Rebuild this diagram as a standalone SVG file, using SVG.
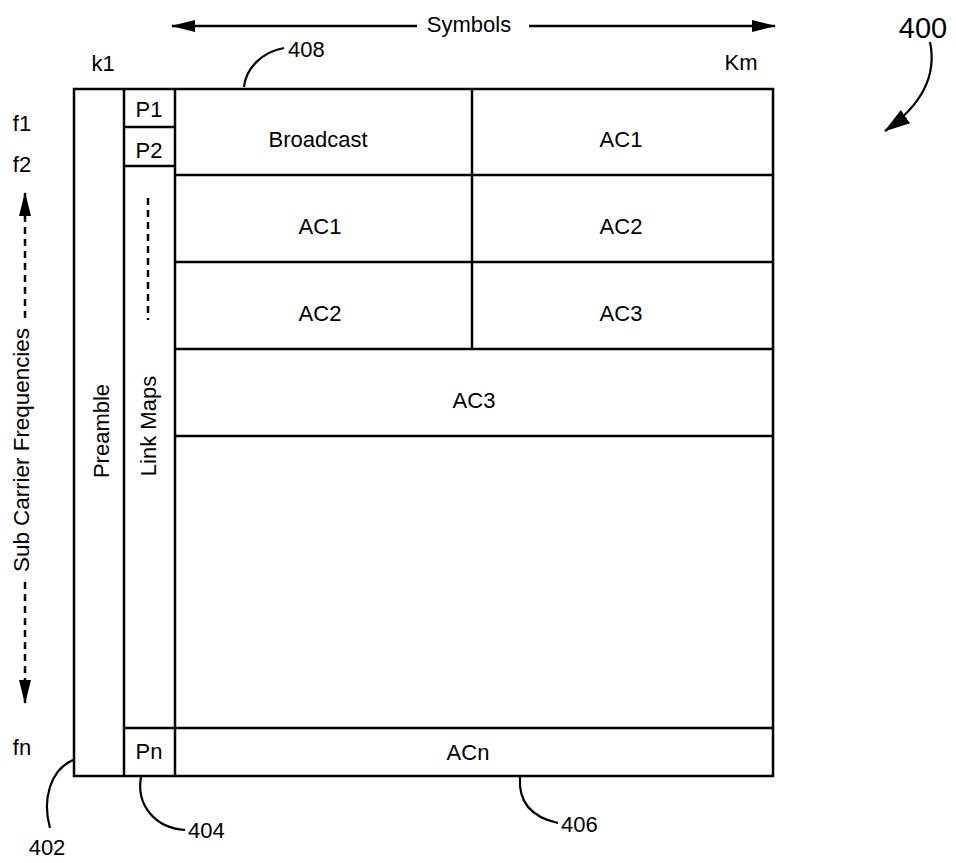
<svg xmlns="http://www.w3.org/2000/svg" width="956" height="863" viewBox="0 0 956 863">
<style>
text{font-family:"Liberation Sans",Arial,sans-serif;font-size:22px;fill:#000}
.m{text-anchor:middle}
.ln{stroke:#000;stroke-width:2.5;fill:none}
.dash{stroke:#000;stroke-width:2.5;fill:none;stroke-dasharray:7 5}
.lead{stroke:#000;stroke-width:2.2;fill:none}
</style>
<defs>
<marker id="ah" viewBox="0 0 24 12" refX="23" refY="6" markerWidth="24" markerHeight="12" markerUnits="userSpaceOnUse" orient="auto">
<path d="M0,0 L24,6 L0,12 Z" fill="#000"/>
</marker>
<marker id="ah2" viewBox="0 0 26 16" refX="25" refY="8" markerWidth="26" markerHeight="16" markerUnits="userSpaceOnUse" orient="auto">
<path d="M0,0 L26,8 L0,16 Z" fill="#000"/>
</marker>
</defs>
<rect width="956" height="863" fill="#fff"/>

<g id="frame">
<rect x="74" y="89" width="699" height="687" class="ln"/>
</g>
<g id="preamble">
<line x1="124" y1="89" x2="124" y2="776" class="ln"/>
<text transform="translate(109,431) rotate(-90)" class="m">Preamble</text>
</g>
<g id="linkmaps">
<line x1="175" y1="89" x2="175" y2="776" class="ln"/>
<line x1="124" y1="127" x2="175" y2="127" class="ln"/>
<line x1="124" y1="166" x2="175" y2="166" class="ln"/>
<line x1="124" y1="728" x2="175" y2="728" class="ln"/>
<text x="149" y="117" class="m">P1</text>
<text x="149" y="158" class="m">P2</text>
<text x="149" y="759" class="m">Pn</text>
<line x1="148" y1="198" x2="148" y2="320" class="dash"/>
<text transform="translate(156,426) rotate(-90)" class="m">Link Maps</text>
</g>
<g id="grid">
<line x1="175" y1="175" x2="773" y2="175" class="ln"/>
<line x1="175" y1="262" x2="773" y2="262" class="ln"/>
<line x1="175" y1="349" x2="773" y2="349" class="ln"/>
<line x1="175" y1="436" x2="773" y2="436" class="ln"/>
<line x1="175" y1="728" x2="773" y2="728" class="ln"/>
<line x1="472" y1="89" x2="472" y2="349" class="ln"/>
</g>
<g id="cells">
<text x="318" y="147" class="m">Broadcast</text>
<text x="621" y="147" class="m">AC1</text>
<text x="320" y="234" class="m">AC1</text>
<text x="621" y="234" class="m">AC2</text>
<text x="320" y="321" class="m">AC2</text>
<text x="621" y="321" class="m">AC3</text>
<text x="474" y="408" class="m">AC3</text>
<text x="468" y="760" class="m">ACn</text>
</g>
<g id="axes">
<text x="469" y="32" class="m">Symbols</text>
<text x="103" y="71" class="m">k1</text>
<text x="741" y="70" class="m">Km</text>
<text x="22" y="131" class="m">f1</text>
<text x="22" y="172" class="m">f2</text>
<text x="22" y="755" class="m">fn</text>
<text transform="translate(29,450) rotate(-90)" class="m" textLength="244" lengthAdjust="spacingAndGlyphs">Sub Carrier Frequencies</text>
</g>
<g id="connectors">
<line x1="417" y1="26" x2="172" y2="26" class="ln" marker-end="url(#ah)"/>
<line x1="529" y1="26" x2="775" y2="26" class="ln" marker-end="url(#ah)"/>
<line x1="25" y1="318" x2="25" y2="212" class="dash"/>
<line x1="25" y1="216" x2="25" y2="193" class="ln" marker-end="url(#ah)"/>
<line x1="25" y1="582" x2="25" y2="684" class="dash"/>
<line x1="25" y1="680" x2="25" y2="703" class="ln" marker-end="url(#ah)"/>
<path d="M930,42 C937,75 922,105 885,131" class="lead" marker-end="url(#ah2)"/>
<path d="M244,87 C246,68 262,52 284,48" class="lead"/>
<path d="M73,760 C50,770 42,800 50,828" class="lead"/>
<path d="M141,777 C136,805 155,828 185,830" class="lead"/>
<path d="M520,777 C518,805 535,818 558,823" class="lead"/>
</g>
<g id="refs">
<text x="288" y="57">408</text>
<text x="923" y="38" class="m" style="font-size:29px">400</text>
<text x="47" y="855" class="m">402</text>
<text x="188" y="838">404</text>
<text x="561" y="832">406</text>
</g>
</svg>
